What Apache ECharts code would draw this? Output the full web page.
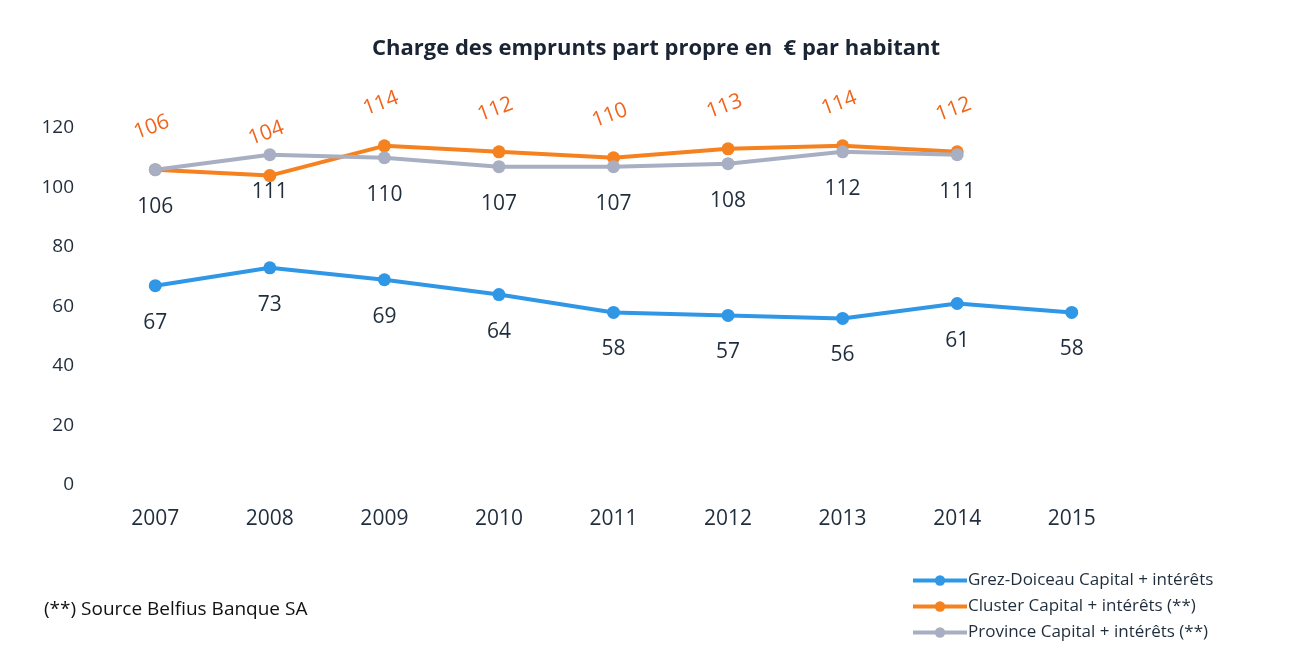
<!DOCTYPE html>
<html>
<head>
<meta charset="utf-8">
<script src="https://cdn.jsdelivr.net/npm/echarts@6/dist/echarts.min.js"></script>
<style>
  html, body { margin: 0; padding: 0; background: #fff; }
  #chart { width: 1299px; height: 646px; }
</style>
</head>
<body>
<div id="chart"></div>
<script>
var years = ["2007", "2008", "2009", "2010", "2011", "2012", "2013", "2014", "2015"];
var grezDoiceau = [67, 73, 69, 64, 58, 57, 56, 61, 58];
var cluster = [106, 104, 114, 112, 110, 113, 114, 112, null];
var province = [106, 111, 110, 107, 107, 108, 112, 111, null];

var font = "'Open Sans', 'Noto Sans', sans-serif";
var textDark = "#1f2d3d";

var chart = echarts.init(document.getElementById("chart"));
chart.setOption({
  backgroundColor: "#fff",
  title: {
    text: "Charge des emprunts part propre en  € par habitant",
    left: 367,
    top: 33,
    textStyle: { fontFamily: font, fontSize: 22, fontWeight: "bold", color: "#1a2433" }
  },
  grid: { left: 98, width: 1031, top: 128, height: 357 },
  legend: {
    orient: "vertical",
    left: 906,
    top: 567,
    itemWidth: 54,
    itemHeight: 13,
    itemGap: 9,
    lineStyle: { width: 4 },
    textStyle: { fontFamily: font, fontSize: 17, color: textDark, padding: [0, 0, 0, -4] },
    data: [
      "Grez-Doiceau Capital + intérêts",
      "Cluster Capital + intérêts (**)",
      "Province Capital + intérêts (**)"
    ]
  },
  graphic: [{
    type: "text",
    left: 44,
    top: 600,
    style: { text: "(**) Source Belfius Banque SA", fontFamily: font, fontSize: 19, fill: "#111" }
  }],
  xAxis: {
    type: "category",
    data: years,
    boundaryGap: true,
    axisLine: { show: false },
    axisTick: { show: false },
    axisLabel: { margin: 24, fontFamily: font, fontSize: 21, color: textDark }
  },
  yAxis: {
    type: "value",
    min: 0,
    max: 120,
    interval: 20,
    splitLine: { show: false },
    axisLine: { show: false },
    axisTick: { show: false },
    axisLabel: { margin: 24, fontFamily: font, fontSize: 19, color: textDark }
  },
  series: [
    {
      name: "Grez-Doiceau Capital + intérêts",
      type: "line",
      data: grezDoiceau,
      color: "#2f97e6",
      symbol: "circle",
      symbolSize: 13,
      lineStyle: { width: 4 },
      label: {
        show: true, position: "bottom", distance: 20,
        fontFamily: font, fontSize: 21, color: textDark
      }
    },
    {
      name: "Cluster Capital + intérêts (**)",
      type: "line",
      data: cluster,
      color: "#f5811f",
      symbol: "circle",
      symbolSize: 13,
      lineStyle: { width: 4 },
      label: {
        show: true, position: "top", distance: 26, rotate: 20,
        fontFamily: font, fontSize: 21, color: "#f0641c"
      }
    },
    {
      name: "Province Capital + intérêts (**)",
      type: "line",
      data: province,
      color: "#a9afc2",
      symbol: "circle",
      symbolSize: 13,
      lineStyle: { width: 4 },
      label: {
        show: true, position: "bottom", distance: 20,
        fontFamily: font, fontSize: 21, color: textDark
      }
    }
  ]
});
</script>
</body>
</html>
